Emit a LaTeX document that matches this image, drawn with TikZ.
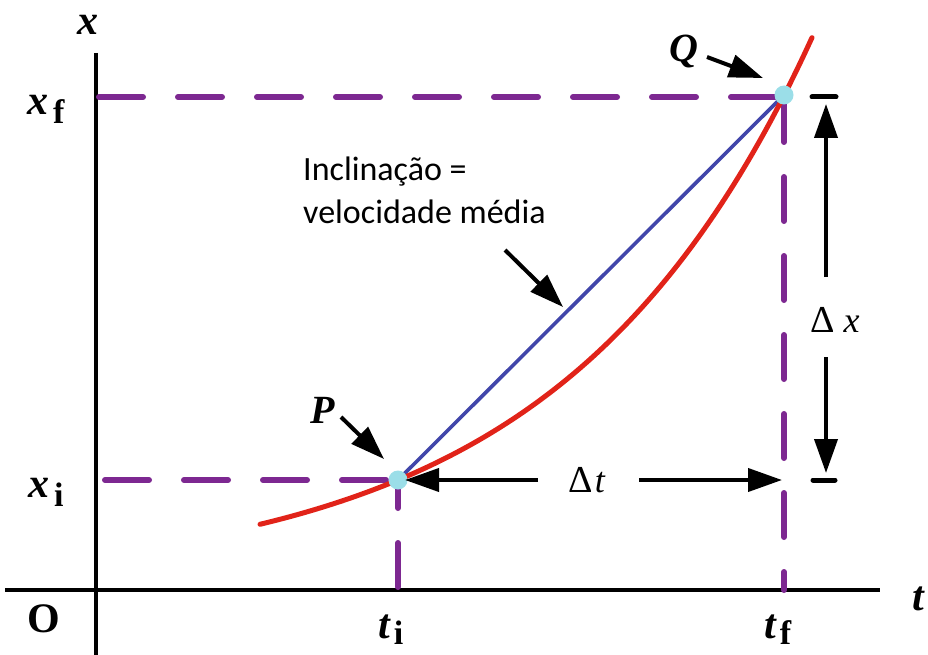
\documentclass[tikz,border=0pt]{standalone}
\usepackage{fontspec}
\setmainfont{Liberation Serif}
\newfontfamily\notefont{Carlito}
\usetikzlibrary{arrows.meta}
\definecolor{guidepur}{RGB}{125,40,145}
\definecolor{curvered}{RGB}{225,35,25}
\definecolor{chordblue}{RGB}{65,70,170}
\definecolor{ptcyan}{RGB}{155,222,232}
\newcommand\subl[2][9pt]{\raisebox{-#1}{\fontsize{34}{34}\selectfont\upshape\bfseries #2}}
\begin{document}
\begin{tikzpicture}[x=1pt,y=-1pt,
  axis/.style={line width=4.6pt,black},
  guide/.style={line width=6pt,guidepur,line cap=round,dash pattern=on 44pt off 35pt},
  tickmark/.style={line width=5pt,black,line cap=round},
  callout/.style={line width=4pt,black,-{Triangle[length=34pt,width=23pt]}},
  lab/.style={font=\fontsize{42}{42}\selectfont\bfseries\itshape,inner sep=0pt},
  dlab/.style={font=\fontsize{38}{38}\selectfont,inner sep=0pt},
  pt/.style={circle,fill=ptcyan,minimum size=19pt,inner sep=0pt}
]
\useasboundingbox (0,0) rectangle (928,655);
% axes
\coordinate (ytop) at (96,53);
\coordinate (ybot) at (96,655);
\coordinate (xleft) at (5,590);
\coordinate (xright) at (880,590);
\draw[axis] (ytop) -- (ybot);
\draw[axis] (xleft) -- (xright);
% points
\coordinate (Pc) at (398,480);
\coordinate (Qc) at (784,95);
% guides
\coordinate (gxf) at (99,97);
\coordinate (gxfe) at (784,97);
\coordinate (gxi) at (105,480);
\coordinate (gti) at (398,587);
\coordinate (gtf) at (784,98);
\coordinate (gtfe) at (784,590);
\draw[guide] (gxf) -- (gxfe);
\draw[guide] (gxi) -- (Pc);
\draw[guide] (gti) -- (Pc);
\draw[guide] (gtf) -- (gtfe);
% chord and curve
\draw[line width=3.6pt,chordblue] (Pc) -- (Qc);
\draw[line width=5pt,curvered,line cap=round] plot[domain=260:812,samples=70,smooth]
 (\x,{480-104.5*(exp(0.004*(\x-398))-1)});
\node[pt] (P) at (Pc) {};
\node[pt] (Q) at (Qc) {};
% ticks at right
\coordinate (t1a) at (812,97); \coordinate (t1b) at (836,97);
\coordinate (t2a) at (813,480); \coordinate (t2b) at (835,480);
\draw[tickmark] (t1a) -- (t1b);
\draw[tickmark] (t2a) -- (t2b);
% delta x arrows
\coordinate (dxu) at (826,277); \coordinate (dxut) at (826,104);
\coordinate (dxd) at (826,357); \coordinate (dxdt) at (826,473);
\draw[callout] (dxu) -- (dxut);
\draw[callout] (dxd) -- (dxdt);
\node[dlab,anchor=base] (dx) at (835,332) {Δ\kern9pt{\fontsize{36}{36}\selectfont\textit{x}}};
% delta t arrows
\coordinate (dtl) at (538,480); \coordinate (dtlt) at (405,480);
\coordinate (dtr) at (639,480); \coordinate (dtrt) at (782,480);
\draw[callout] (dtl) -- (dtlt);
\draw[callout] (dtr) -- (dtrt);
\node[dlab,anchor=base] (dt) at (587,492) {Δ\kern2pt{\fontsize{36}{36}\selectfont\textit{t}}};
% callouts
\coordinate (pa) at (341,417); \coordinate (pat) at (384,459);
\draw[callout] (pa) -- (pat);
\coordinate (qa) at (707,57); \coordinate (qat) at (763,78);
\draw[callout] (qa) -- (qat);
\coordinate (va) at (505,250); \coordinate (vat) at (563,307);
\draw[callout] (va) -- (vat);
% labels
\node[lab,font=\fontsize{40}{40}\selectfont\bfseries\itshape,anchor=base] (Plab) at (323,423) {P};
\node[lab,font=\fontsize{40}{40}\selectfont\bfseries\itshape,anchor=base] (Qlab) at (684,62) {Q};
\node[lab,anchor=base] (xax) at (88,35) {x};
\node[lab,anchor=base] (tax) at (918,610) {t};
\node[lab,anchor=base west] (xf) at (27,115) {x\kern5pt\subl{f}};
\node[lab,anchor=base west] (xi) at (28,497) {x\kern5pt\subl{i}};
\node[lab,anchor=base west] (ti) at (378,638) {t\kern4pt\subl[6pt]{i}};
\node[lab,anchor=base west] (tf) at (764,638) {t\kern4pt\subl[6pt]{f}};
\node[lab,font=\fontsize{42}{42}\selectfont\bfseries,anchor=base] (O) at (44,632) {O};
\node[font=\notefont\fontsize{34}{43}\selectfont,anchor=base west,inner sep=0pt,align=left] (note) at (303,223) {Inclinação =\\velocidade média};
\end{tikzpicture}
\end{document}
